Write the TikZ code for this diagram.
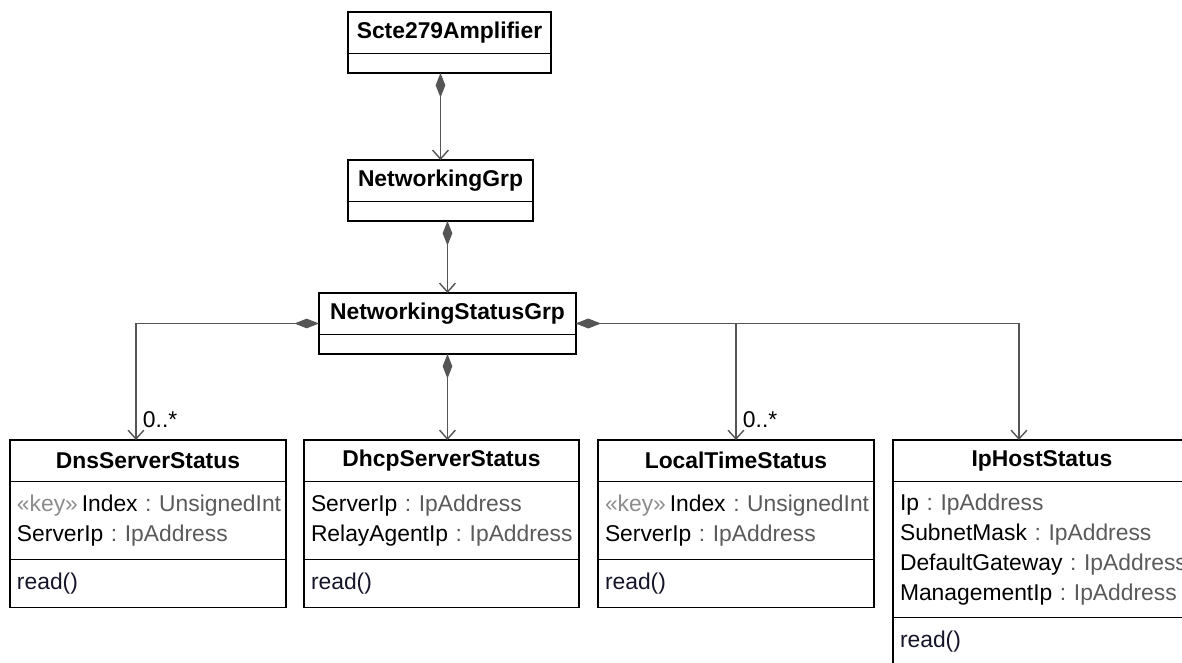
\documentclass[tikz,border=0pt]{standalone}
\usepackage{fontspec}
\setmainfont{Liberation Sans}
\usetikzlibrary{arrows.meta,positioning,fit,calc}
\definecolor{edge}{HTML}{555555}
\definecolor{attrtype}{HTML}{5A5A5A}
\definecolor{stereo}{HTML}{8C8C8C}
\definecolor{opname}{HTML}{15152A}
\frenchspacing
\newcommand{\attr}[2]{\mbox{#1 {\color{attrtype}: #2}}}
\newcommand{\keytag}{{\color{stereo}«key»}\,}

\begin{document}
\begin{tikzpicture}[
  x=0.02cm, y=-0.02cm,
  font=\fontsize{13}{17}\selectfont,
  every node/.append style={outer sep=0pt},
  clsname/.style={draw, line width=1.1pt, minimum width=#1, minimum height=0.83cm, inner sep=0pt, anchor=north west, font=\fontsize{13}{17}\selectfont\bfseries},
  clsbody/.style={draw, line width=1.1pt, minimum width=#1, minimum height=0.39cm, inner sep=0pt},
  clsattr/.style={draw, line width=1.1pt, text width=#1, align=left, inner xsep=0.14cm, inner ysep=0pt, minimum height=1.56cm},
  clsops/.style={draw, line width=1.1pt, text width=#1, align=left, inner xsep=0.14cm, inner ysep=0pt, minimum height=0.96cm, text=opname},
  comp/.style={draw=edge, line width=0.8pt, {Diamond[length=14pt,width=5.5pt]}-{Straight Barb[length=5pt,width=9pt]}},
  mult/.style={above right, inner sep=0pt, xshift=0.14cm, yshift=0.24cm, font=\fontsize{13}{17}\selectfont},
]
\useasboundingbox (0,0) rectangle (1182,662);
\clip (0,0) rectangle (1182,662);
% top of the containment chain
\node[clsname=4.06cm] (scte) at (348,12) {Scte279Amplifier};
\node[clsbody=4.06cm, below=0pt of scte] (scteattr) {};
\node[clsname=3.7cm] (netgrp) at (348,160) {NetworkingGrp};
\node[clsbody=3.7cm, below=0pt of netgrp] (netgrpattr) {};
\node[clsname=5.14cm] (nsg) at (319,293) {NetworkingStatusGrp};
\node[clsbody=5.14cm, below=0pt of nsg] (nsgattr) {};
\node[fit=(nsg)(nsgattr), inner sep=0pt] (nsgbox) {};
% status classes
\node[clsname=5.52cm] (dns) at (10,440) {DnsServerStatus};
\node[clsattr=5.24cm, below=0pt of dns] (dnsattr)
  {\keytag\attr{Index}{UnsignedInt}\\ \attr{ServerIp}{IpAddress}};
\node[clsops=5.24cm, below=0pt of dnsattr] (dnsops) {read()};
\node[clsname=5.5cm] (dhcp) at (304,440) {DhcpServerStatus};
\node[clsattr=5.22cm, below=0pt of dhcp] (dhcpattr)
  {\attr{ServerIp}{IpAddress}\\ \attr{RelayAgentIp}{IpAddress}};
\node[clsops=5.22cm, below=0pt of dhcpattr] (dhcpops) {read()};
\node[clsname=5.52cm] (ltime) at (598,440) {LocalTimeStatus};
\node[clsattr=5.24cm, below=0pt of ltime] (ltimeattr)
  {\keytag\attr{Index}{UnsignedInt}\\ \attr{ServerIp}{IpAddress}};
\node[clsops=5.24cm, below=0pt of ltimeattr] (ltimeops) {read()};
\node[clsname=5.96cm] (iphost) at (893,440) {IpHostStatus};
\node[clsattr=5.68cm, below=0pt of iphost, minimum height=2.72cm] (iphostattr)
  {\attr{Ip}{IpAddress}\\ \attr{SubnetMask}{IpAddress}\\
   \attr{DefaultGateway}{IpAddress}\\ \attr{ManagementIp}{IpAddress}};
\node[clsops=5.68cm, below=0pt of iphostattr] (iphostops) {read()};
% composition links
\draw[comp] (scteattr.south -| netgrp.north) -- (netgrp.north);
\draw[comp] (netgrpattr.south -| nsg.north) -- (nsg.north);
\draw[comp] (nsgbox.west) -| ($(dns.north)+(-12,0)$) node[mult] {0..*};
\draw[comp] (nsgattr.south) -- (nsgattr.south |- dhcp.north);
\draw[comp] (nsgbox.east) -| (ltime.north) node[mult] {0..*};
\draw[comp] (nsgbox.east) -| ($(iphost.north)+(-23,0)$);
\end{tikzpicture}
\end{document}
